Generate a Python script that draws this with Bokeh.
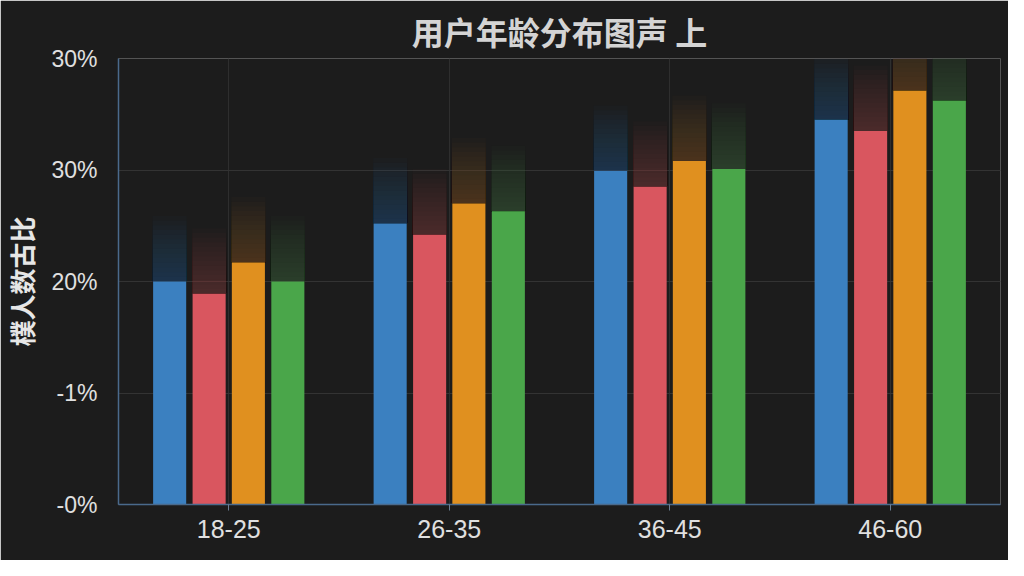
from bokeh.plotting import figure
from bokeh.models import ColumnDataSource, FixedTicker, FactorRange
from bokeh.transform import dodge
from bokeh.embed import file_html
from bokeh.resources import INLINE

# ---- data ----
groups = ["18-25", "26-35", "36-45", "46-60"]
s_blue = [20.0, 25.2, 29.9, 34.5]
s_red = [18.9, 24.2, 28.5, 33.5]
s_orange = [21.7, 27.0, 30.8, 37.1]
s_green = [20.0, 26.3, 30.1, 36.2]
y_ticks = [0, 10, 20, 30, 40]
y_tick_labels = ["-0%", "-1%", "20%", "30%", "30%"]
title_text = "用户年龄分布图声 上"
y_label = "樸人数古比"

colors = ["#3b80c0", "#d9565f", "#e0901f", "#4aa64a"]
offsets = [-0.268, -0.089, 0.089, 0.268]
series = [s_blue, s_red, s_orange, s_green]

BG = "#1c1c1c"

p = figure(x_range=FactorRange(*groups, range_padding=0), y_range=(0, 40),
           width=1008, height=560, output_backend="svg", toolbar_location=None,
           min_border_left=116, min_border_right=8, min_border_top=58, min_border_bottom=56)

p.background_fill_color = BG
p.border_fill_color = BG
p.outline_line_color = None

# soft glow above the bars
glow_layers = 14
glow_step = 0.42
for vals, col, off in zip(series, colors, offsets):
    for k in range(1, glow_layers + 1):
        src = ColumnDataSource(dict(x=groups, top=[v + k * glow_step for v in vals],
                                    bottom=vals))
        p.vbar(x=dodge("x", off, range=p.x_range), top="top", bottom="bottom",
               width=0.155, source=src, fill_color=col, fill_alpha=0.024,
               line_color=None)

# bars
for vals, col, off in zip(series, colors, offsets):
    src = ColumnDataSource(dict(x=groups, top=vals))
    p.vbar(x=dodge("x", off, range=p.x_range), top="top", width=0.15, source=src,
           fill_color=col, line_color=None)

# title
p.title.text = title_text
p.title.align = "center"
p.title.text_color = "#d4d4d4"
p.title.text_font = "Noto Sans CJK SC"
p.title.text_font_size = "32px"
p.title.text_font_style = "bold"
p.title.offset = 0
p.title.standoff = 10

# axes
p.yaxis.ticker = FixedTicker(ticks=y_ticks)
p.yaxis.major_label_overrides = {t: l for t, l in zip(y_ticks, y_tick_labels)}
p.yaxis.axis_label = y_label
p.yaxis.axis_label_text_font = "Noto Sans CJK SC"
p.yaxis.axis_label_text_font_size = "26px"
p.yaxis.axis_label_text_font_style = "bold"
p.yaxis.axis_label_text_color = "#e6e6e6"
p.yaxis.axis_label_standoff = 8

for ax in (p.xaxis, p.yaxis):
    ax.axis_line_color = "#4a6a8c"
    ax.axis_line_width = 1.5
    ax.major_tick_line_color = "#6a7e94"
    ax.minor_tick_line_color = None
    ax.major_label_text_color = "#e0e0e0"
    ax.major_label_text_font = "Liberation Sans"

p.yaxis.major_label_text_font_size = "23px"
p.yaxis.major_tick_line_color = None
p.yaxis.major_label_standoff = 15
p.xaxis.major_tick_in = 0
p.xaxis.major_tick_out = 6
p.xaxis.major_label_standoff = 9
p.xaxis.major_label_text_font_size = "25px"

p.xgrid.grid_line_color = "#2e2e2e"
p.ygrid.grid_line_color = "#333333"
p.ygrid.grid_line_width = 1

open("out.html", "w").write(file_html(p, INLINE))
